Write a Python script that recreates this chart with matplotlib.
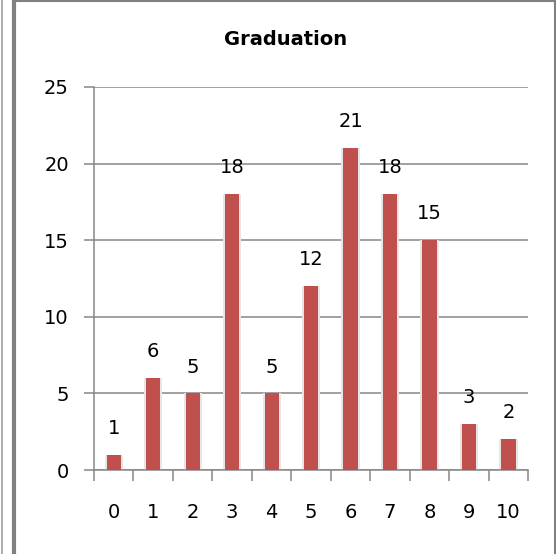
import matplotlib.pyplot as plt
from matplotlib.lines import Line2D

# graduation counts per score
scores = [0, 1, 2, 3, 4, 5, 6, 7, 8, 9, 10]
counts = [1, 6, 5, 18, 5, 12, 21, 18, 15, 3, 2]
labels = [str(s) for s in scores]

plt.rcParams['font.family'] = ['DejaVu Sans']

fig = plt.figure(figsize=(5.56, 5.54), dpi=100)
ax = fig.add_axes([0.169, 0.1516, 0.781, 0.6914])

grid_col = '#868686'
bar_col = '#C0504D'

# soft shadow behind bars
ax.bar(scores, counts, width=0.46, color='#e6e6e6', zorder=2)
ax.bar(scores, counts, width=0.36, color=bar_col, zorder=3)

for x, c in zip(scores, counts):
    ax.annotate(str(c), (x, c), xytext=(0, 19), textcoords='offset points',
                ha='center', va='center', fontsize=14, color='black', zorder=4)

ax.set_xlim(-0.5, 10.5)
ax.set_ylim(0, 25)
ax.set_yticks([0, 5, 10, 15, 20, 25])
ax.set_xticks([s - 0.5 for s in scores] + [10.5])
ax.set_xticklabels([])
ax.set_xticks(scores, minor=True)
ax.set_xticklabels(labels, minor=True)

ax.grid(axis='y', color=grid_col, linewidth=1.1, zorder=0)
ax.set_axisbelow(True)
for side in ['top', 'right']:
    ax.spines[side].set_visible(False)
for side in ['left', 'bottom']:
    ax.spines[side].set_color(grid_col)
    ax.spines[side].set_linewidth(1.1)

ax.tick_params(axis='y', length=7, width=1.1, color=grid_col, labelsize=14, pad=11)
ax.tick_params(axis='x', which='major', length=8, width=1.1, color=grid_col)
ax.tick_params(axis='x', which='minor', length=0, labelsize=14, pad=24)

fig.text(0.514, 0.929, 'Graduation', ha='center', va='center',
         fontsize=14, fontweight='bold')

# chart frame: double line on the left, thin line top and right
fig.add_artist(Line2D([0.003, 0.003], [0, 1], transform=fig.transFigure,
                      color='#a0a0a0', linewidth=1.2))
fig.add_artist(Line2D([0.025, 0.025], [0, 0.998], transform=fig.transFigure,
                      color='#808080', linewidth=3))
fig.add_artist(Line2D([0.025, 0.998], [0.998, 0.998], transform=fig.transFigure,
                      color='#808080', linewidth=1.5))
fig.add_artist(Line2D([0.998, 0.998], [0, 0.998], transform=fig.transFigure,
                      color='#808080', linewidth=1.5))

fig.savefig('out.png', dpi=100)
